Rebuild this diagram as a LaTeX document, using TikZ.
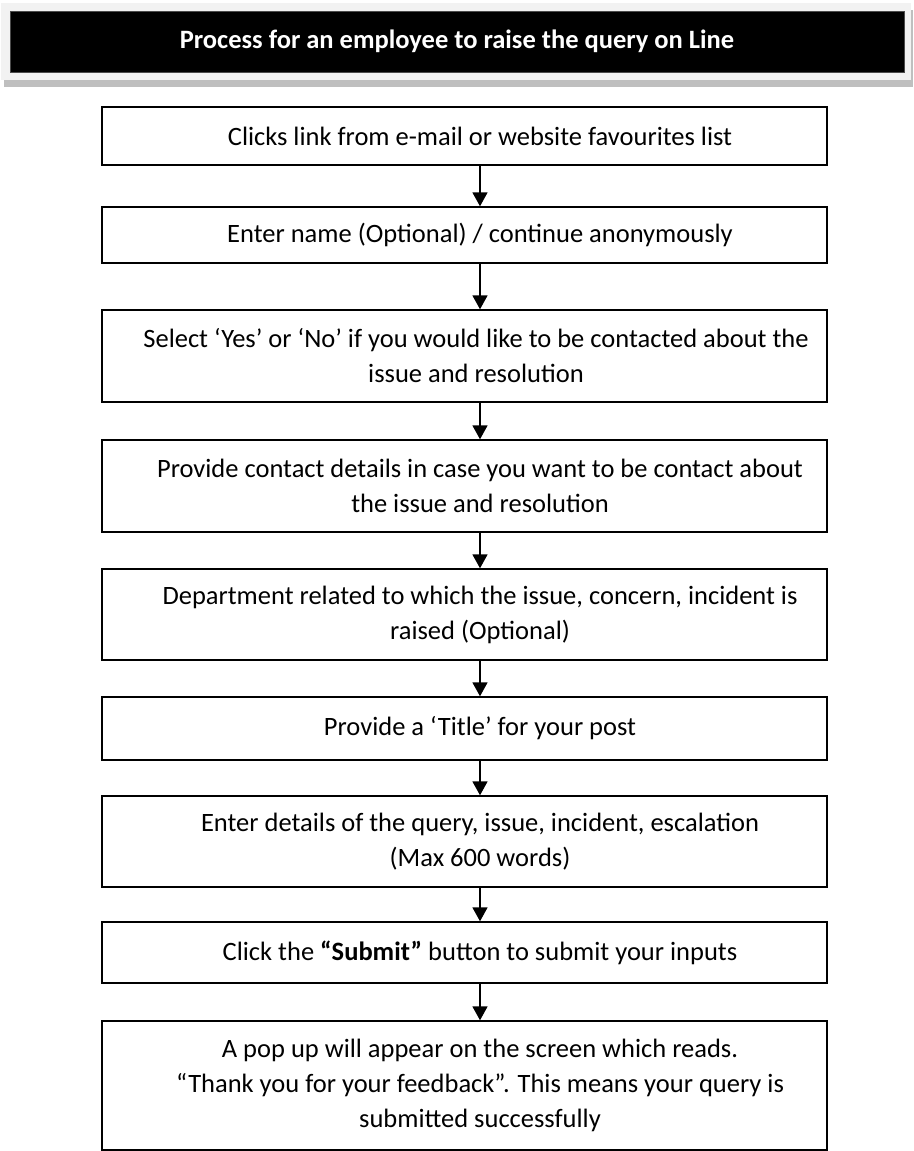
\documentclass[tikz,border=0pt]{standalone}
\usepackage{fontspec}
\setmainfont{Carlito}
\usetikzlibrary{arrows.meta}
\definecolor{framegray}{HTML}{F2F2F2}
\definecolor{shadowgray}{HTML}{BFBFBF}
\tikzset{
  stepbox/.style={draw=black, line width=1.4pt, minimum width=725pt, inner sep=0pt},
  steptext/.style={align=center, inner sep=0pt, font=\fontsize{26.5}{35}\selectfont},
  flowarrow/.style={line width=1.7pt, -{Triangle[width=15pt,length=14pt]}},
}
\begin{document}
\begin{tikzpicture}[x=1pt,y=-1pt]
\useasboundingbox (0,0) rectangle (913,1151);
% header
\fill[shadowgray] (4,10) rectangle (913,87);
\fill[framegray] (0.5,3) rectangle (910.5,80);
\node[fill=black, draw=black!70, line width=0.8pt, minimum width=894pt, minimum height=61pt, inner sep=0pt,
  text=white, font=\bfseries\fontsize{26.5}{32}\selectfont] (head) at (457,41.5) {Process for an employee to raise the query on Line};
% boxes
\node[stepbox, minimum height=58pt] (b1) at (464.5,136) {};
\node[stepbox, minimum height=56pt] (b2) at (464.5,235) {};
\node[stepbox, minimum height=92pt] (b3) at (464.5,356) {};
\node[stepbox, minimum height=92pt] (b4) at (464.5,486) {};
\node[stepbox, minimum height=91pt] (b5) at (464.5,614.5) {};
\node[stepbox, minimum height=63pt] (b6) at (464.5,728.5) {};
\node[stepbox, minimum height=91pt] (b7) at (464.5,841.5) {};
\node[stepbox, minimum height=61pt] (b8) at (464.5,952.5) {};
\node[stepbox, minimum height=129pt] (b9) at (464.5,1085.5) {};
% texts
\node[steptext] (t1) at (480,136) {Clicks link from e-mail or website favourites list};
\node[steptext] (t2) at (480,235) {Enter name (Optional) / continue anonymously};
\node[steptext] (t3) at (476,356) {Select ‘Yes’ or ‘No’ if you would like to be contacted about the\\issue and resolution};
\node[steptext] (t4) at (480,486) {Provide contact details in case you want to be contact about\\the issue and resolution};
\node[steptext] (t5) at (480,614.5) {Department related to which the issue, concern, incident is\\raised (Optional)};
\node[steptext] (t6) at (480,728.5) {Provide a ‘Title’ for your post};
\node[steptext] (t7) at (480,841.5) {Enter details of the query, issue, incident, escalation\\(Max 600 words)};
\node[steptext] (t8) at (480,952.5) {Click the \textbf{“Submit”} button to submit your inputs};
\node[steptext] (t9) at (480,1085.5) {A pop up will appear on the screen which reads.\\“Thank you for your feedback”. This means your query is\\submitted successfully};
% arrows
\foreach \a/\b/\t in {b1/b2/t1, b2/b3/t2, b3/b4/t1, b4/b5/t4, b5/b6/t5, b6/b7/t6, b7/b8/t7, b8/b9/t8}
  \draw[flowarrow] (\t |- \a.south) -- (\t |- \b.north);
\end{tikzpicture}
\end{document}
